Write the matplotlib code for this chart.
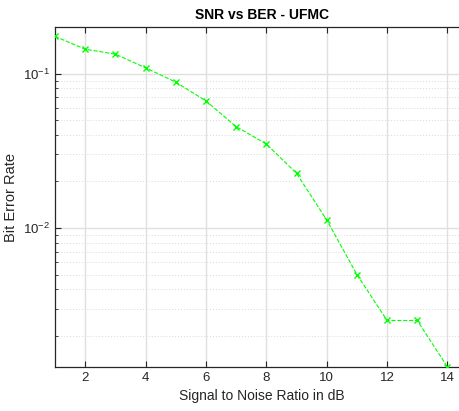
import matplotlib
matplotlib.use("Agg")
import matplotlib.pyplot as plt
from matplotlib.ticker import LogLocator, NullFormatter

plt.rcParams['font.family'] = ['Liberation Sans', 'DejaVu Sans']

snr = [1, 2, 3, 4, 5, 6, 7, 8, 9, 10, 11, 12, 13, 14]
ber = [0.1738, 0.1437, 0.1334, 0.1089, 0.0879, 0.0665, 0.0453,
       0.0350, 0.0226, 0.01127, 0.0050, 0.00252, 0.00252, 0.00126]

fig = plt.figure(figsize=(4.6, 4.11), dpi=100)
ax = fig.add_axes([55/460, 44/411, 1.02 - 55/460, (367-27)/411])

ax.semilogy(snr, ber, '--x', color='#00ff00', lw=0.8, ms=5, mew=1.0, zorder=3)

ax.set_xlim(1, 14.72)
ax.set_ylim(0.00126, 0.2)
ax.set_xticks([2, 4, 6, 8, 10, 12, 14])
ax.yaxis.set_major_locator(LogLocator(base=10, numticks=10))
ax.yaxis.set_minor_locator(LogLocator(base=10, subs=range(2, 10), numticks=10))
ax.yaxis.set_minor_formatter(NullFormatter())

ax.grid(True, which='major', color='#e0e0e0', lw=1.0, ls='-')
ax.grid(True, which='minor', axis='y', color='#d8d8d8', lw=0.7, ls=(0, (1, 2)))
ax.set_axisbelow(True)

ax.tick_params(which='both', direction='in', top=True, right=True,
               labelsize=9.5, colors='#262626', length=4)
ax.tick_params(which='minor', length=2)
for s in ax.spines.values():
    s.set_color('#262626')
    s.set_linewidth(0.9)

ax.set_title('SNR vs BER - UFMC', fontsize=10, fontweight='bold', pad=6)
ax.set_xlabel('Signal to Noise Ratio in dB', fontsize=10, color='#262626')
ax.set_ylabel('Bit Error Rate', fontsize=10.5, color='#262626')

fig.savefig('out.png', dpi=100)
